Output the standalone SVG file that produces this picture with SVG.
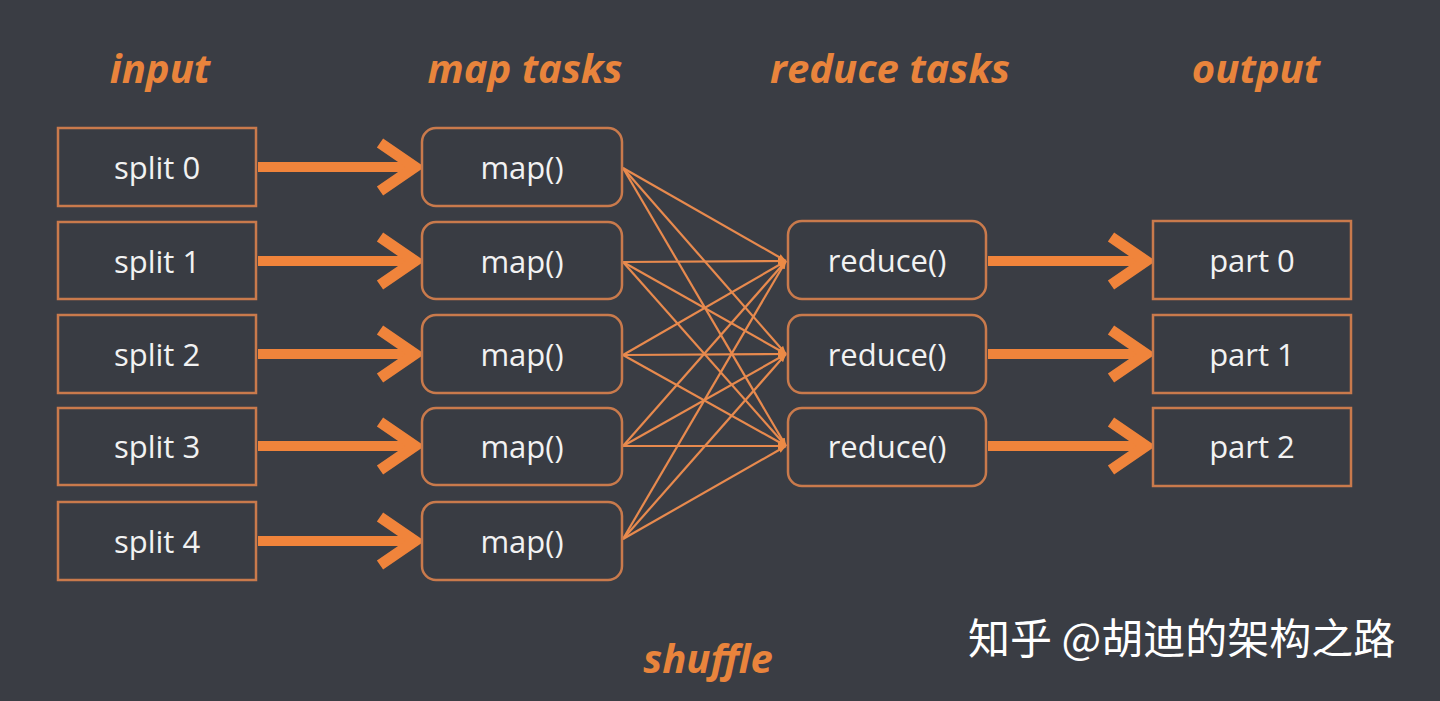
<svg xmlns="http://www.w3.org/2000/svg" width="1440" height="701" viewBox="0 0 1440 701">
<defs>
<marker id="thin" viewBox="0 0 10 10" refX="10" refY="5" markerWidth="8" markerHeight="8" orient="auto" markerUnits="userSpaceOnUse">
<path d="M0,1 L10,5 L0,9 Z" fill="#ec8a45"/>
</marker>
<style>
.bg{fill:#3a3d44}
.box{fill:#393c43;stroke:#c97a4c;stroke-width:2.5}
.lbl{font-family:"Open Sans","Noto Sans",sans-serif;font-size:31px;fill:#f2f2f2;text-anchor:middle;dominant-baseline:central}
.hdr{font-family:"Open Sans","Noto Sans",sans-serif;font-size:40px;font-weight:bold;font-style:italic;fill:#e9843c;text-anchor:middle}
.thick{stroke:#f0843b;stroke-width:10;fill:none}
.head{stroke:#f0843b;stroke-width:11;fill:none;stroke-linecap:butt;stroke-linejoin:miter}
.sh{stroke:#e88a4e;stroke-width:2.2;fill:none}
.wm{font-family:"Noto Sans CJK SC","Noto Sans",sans-serif;font-size:42px;fill:#ffffff}
</style>
</defs>
<rect class="bg" x="0" y="0" width="1440" height="701"/>

<g id="headers">
<text class="hdr" x="160" y="83">input</text>
<text class="hdr" x="525" y="83">map tasks</text>
<text class="hdr" x="890" y="83">reduce tasks</text>
<text class="hdr" x="1256" y="83">output</text>
<text class="hdr" x="708" y="673">shuffle</text>
</g>

<g id="connectors">
<g id="input-map">
<path class="thick" d="M258,167 H412"/><path class="head" d="M380,143 L415,167 L380,191"/>
<path class="thick" d="M258,261 H412"/><path class="head" d="M380,237 L415,261 L380,285"/>
<path class="thick" d="M258,354 H412"/><path class="head" d="M380,330 L415,354 L380,378"/>
<path class="thick" d="M258,446 H412"/><path class="head" d="M380,422 L415,446 L380,470"/>
<path class="thick" d="M258,541 H412"/><path class="head" d="M380,517 L415,541 L380,565"/>
</g>
<g id="reduce-output">
<path class="thick" d="M988,261 H1143"/><path class="head" d="M1111,237 L1146,261 L1111,285"/>
<path class="thick" d="M988,354 H1143"/><path class="head" d="M1111,330 L1146,354 L1111,378"/>
<path class="thick" d="M988,446 H1143"/><path class="head" d="M1111,422 L1146,446 L1111,470"/>
</g>
<g id="shuffle-lines" marker-end="url(#thin)">
<line class="sh" x1="623" y1="168" x2="786" y2="261"/>
<line class="sh" x1="623" y1="168" x2="786" y2="354"/>
<line class="sh" x1="623" y1="168" x2="786" y2="446"/>
<line class="sh" x1="623" y1="262" x2="786" y2="261"/>
<line class="sh" x1="623" y1="262" x2="786" y2="354"/>
<line class="sh" x1="623" y1="262" x2="786" y2="446"/>
<line class="sh" x1="623" y1="355" x2="786" y2="261"/>
<line class="sh" x1="623" y1="355" x2="786" y2="354"/>
<line class="sh" x1="623" y1="355" x2="786" y2="446"/>
<line class="sh" x1="623" y1="446" x2="786" y2="261"/>
<line class="sh" x1="623" y1="446" x2="786" y2="354"/>
<line class="sh" x1="623" y1="446" x2="786" y2="446"/>
<line class="sh" x1="623" y1="539" x2="786" y2="261"/>
<line class="sh" x1="623" y1="539" x2="786" y2="354"/>
<line class="sh" x1="623" y1="539" x2="786" y2="446"/>
</g>
</g>

<g id="split0"><rect class="box" x="58" y="128" width="198" height="78"/><text class="lbl" x="157" y="167">split 0</text></g>
<g id="split1"><rect class="box" x="58" y="222" width="198" height="77"/><text class="lbl" x="157" y="261">split 1</text></g>
<g id="split2"><rect class="box" x="58" y="315" width="198" height="78"/><text class="lbl" x="157" y="354">split 2</text></g>
<g id="split3"><rect class="box" x="58" y="408" width="198" height="77"/><text class="lbl" x="157" y="446">split 3</text></g>
<g id="split4"><rect class="box" x="58" y="502" width="198" height="78"/><text class="lbl" x="157" y="541">split 4</text></g>

<g id="map0"><rect class="box" x="422" y="128" width="200" height="78" rx="14"/><text class="lbl" x="522" y="167">map()</text></g>
<g id="map1"><rect class="box" x="422" y="222" width="200" height="77" rx="14"/><text class="lbl" x="522" y="261">map()</text></g>
<g id="map2"><rect class="box" x="422" y="315" width="200" height="78" rx="14"/><text class="lbl" x="522" y="354">map()</text></g>
<g id="map3"><rect class="box" x="422" y="408" width="200" height="77" rx="14"/><text class="lbl" x="522" y="446">map()</text></g>
<g id="map4"><rect class="box" x="422" y="502" width="200" height="78" rx="14"/><text class="lbl" x="522" y="541">map()</text></g>

<g id="reduce0"><rect class="box" x="788" y="221" width="198" height="78" rx="14"/><text class="lbl" x="887" y="260">reduce()</text></g>
<g id="reduce1"><rect class="box" x="788" y="315" width="198" height="78" rx="14"/><text class="lbl" x="887" y="354">reduce()</text></g>
<g id="reduce2"><rect class="box" x="788" y="408" width="198" height="78" rx="14"/><text class="lbl" x="887" y="446">reduce()</text></g>

<g id="part0"><rect class="box" x="1153" y="221" width="198" height="78"/><text class="lbl" x="1252" y="260">part 0</text></g>
<g id="part1"><rect class="box" x="1153" y="315" width="198" height="78"/><text class="lbl" x="1252" y="354">part 1</text></g>
<g id="part2"><rect class="box" x="1153" y="408" width="198" height="78"/><text class="lbl" x="1252" y="446">part 2</text></g>

<text class="wm" x="968" y="654">知乎 @胡迪的架构之路</text>
</svg>
